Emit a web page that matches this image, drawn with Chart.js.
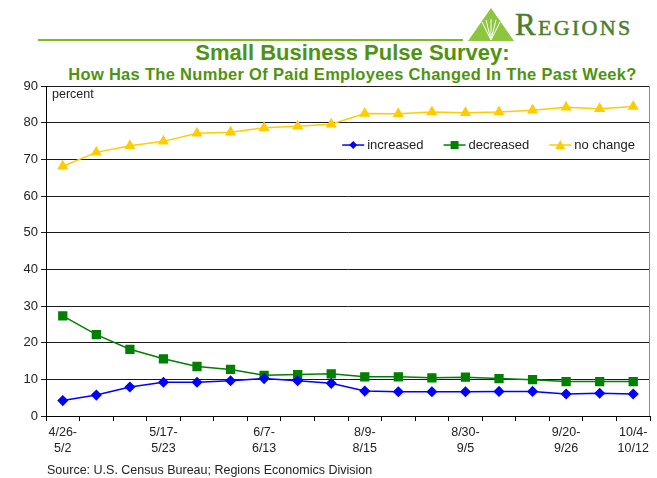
<!DOCTYPE html>
<html lang="en">
<head>
<meta charset="UTF-8">
<title>Small Business Pulse Survey</title>
<script src="https://cdn.jsdelivr.net/npm/chart.js@4/dist/chart.umd.min.js"></script>
<style>
    body {
        margin: 0;
        padding: 0;
        background: #fff;
        font-family: 'Liberation Sans', Arial, sans-serif;
    }
    .page {
        position: relative;
        width: 657px;
        height: 478px;
        overflow: hidden;
    }
    .rule {
        position: absolute;
        left: 38px;
        top: 39px;
        width: 425px;
        height: 2px;
        background: #7dbb1c;
    }
    .logo {
        position: absolute;
        left: 468px;
        top: 8px;
    }
    .brand {
        position: absolute;
        left: 515px;
        top: 7px;
        font-family: 'Liberation Serif', 'DejaVu Serif', serif;
        font-size: 31px;
        font-variant: small-caps;
        color: #4b7f2d;
        letter-spacing: 2.3px;
        -webkit-text-stroke: 0.5px #4b7f2d;
    }
    h1, h2 {
        position: absolute;
        left: 0;
        width: 705px;
        margin: 0;
        text-align: center;
        color: #4f9310;
        font-weight: bold;
    }
    h1 { top: 40px; font-size: 22px; }
    h2 { top: 65px; font-size: 16.5px; letter-spacing: 0.3px; }
    .source {
        position: absolute;
        left: 47px;
        top: 463px;
        font-size: 12.5px;
        color: #222;
    }
    canvas { position: absolute; left: 0; top: 0; }
</style>
</head>
<body>
<div class="page">
    <div class="rule"></div>
    <svg class="logo" width="46" height="33" viewBox="0 0 46 33">
        <polygon points="23,0 46,33 0,33" fill="#8cc63f"/>
        <g stroke="#fff" stroke-width="1" fill="none">
            <path d="M23,32 L14,14"/>
            <path d="M23,32 L18,12"/>
            <path d="M23,32 L23,11"/>
            <path d="M23,32 L28,12"/>
            <path d="M23,32 L32,14"/>
        </g>
    </svg>
    <div class="brand">Regions</div>
    <h1>Small Business Pulse Survey:</h1>
    <h2>How Has The Number Of Paid Employees Changed In The Past Week?</h2>
    <canvas id="chart" width="657" height="478"></canvas>
    <div class="source">Source: U.S. Census Bureau; Regions Economics Division</div>
</div>

<script>
// weekly survey periods
const weeks = ['4/26-5/2', '5/3-5/9', '5/10-5/16', '5/17-5/23', '5/24-5/30', '5/31-6/6',
    '6/7-6/13', '6/14-6/20', '6/21-6/27', '8/9-8/15', '8/16-8/22', '8/23-8/29',
    '8/30-9/5', '9/6-9/12', '9/13-9/19', '9/20-9/26', '9/27-10/3', '10/4-10/12'];

// only some periods are labelled on the axis
const tickLabels = [['4/26-', '5/2'], '', '', ['5/17-', '5/23'], '', '',
    ['6/7-', '6/13'], '', '', ['8/9-', '8/15'], '', '',
    ['8/30-', '9/5'], '', '', ['9/20-', '9/26'], '', ['10/4-', '10/12']];

const increased = [4.2, 5.7, 7.9, 9.2, 9.2, 9.6, 10.2, 9.6, 8.9, 6.8, 6.6, 6.6, 6.6, 6.7, 6.7, 6.0, 6.2, 6.0];
const decreased = [27.3, 22.2, 18.2, 15.6, 13.5, 12.7, 11.1, 11.3, 11.5, 10.7, 10.7, 10.4, 10.6, 10.2, 9.9, 9.4, 9.4, 9.4];
const noChange = [68.1, 71.9, 73.7, 74.9, 77.1, 77.4, 78.6, 79.0, 79.6, 82.5, 82.4, 82.9, 82.7, 82.9, 83.4, 84.2, 83.8, 84.4];

const yTicks = [0, 10, 20, 30, 40, 50, 60, 70, 80, 90];

const FONT = "'Liberation Sans', Arial, sans-serif";

// draws right border, "percent" label and the in-plot legend
const extras = {
    id: 'extras',
    afterDraw(chart) {
        const ctx = chart.ctx;
        const a = chart.chartArea;
        ctx.save();
        ctx.strokeStyle = '#8a8a8a';
        ctx.lineWidth = 1;
        ctx.beginPath();
        ctx.moveTo(a.right - 0.5, a.top);
        ctx.lineTo(a.right - 0.5, a.bottom);
        ctx.stroke();

        ctx.fillStyle = '#222';
        ctx.font = '12.5px ' + FONT;
        ctx.textBaseline = 'middle';
        ctx.fillText('percent', a.left + 6, a.top + 9);

        // legend, laid out from the right
        ctx.font = '13px ' + FONT;
        const y = chart.scales.y.getPixelForValue(73.9);
        let x = a.right - 15;
        const items = chart.data.datasets.slice().reverse();
        items.forEach(ds => {
            const w = ctx.measureText(ds.label).width;
            x -= w;
            ctx.fillStyle = '#222';
            ctx.fillText(ds.label, x, y);
            const lx1 = x - 25, lx2 = x - 3, mx = (lx1 + lx2) / 2;
            ctx.strokeStyle = ds.borderColor;
            ctx.lineWidth = 1.5;
            ctx.beginPath();
            ctx.moveTo(lx1, y);
            ctx.lineTo(lx2, y);
            ctx.stroke();
            ctx.fillStyle = ds.pointBackgroundColor;
            ctx.beginPath();
            if (ds.pointStyle === 'rectRot') {
                ctx.moveTo(mx, y - 4); ctx.lineTo(mx + 4, y); ctx.lineTo(mx, y + 4); ctx.lineTo(mx - 4, y);
            } else if (ds.pointStyle === 'rect') {
                ctx.rect(mx - 4, y - 4, 8, 8);
            } else {
                ctx.moveTo(mx, y - 5); ctx.lineTo(mx + 5, y + 4); ctx.lineTo(mx - 5, y + 4);
            }
            ctx.closePath();
            ctx.fill();
            x -= 25 + 20;
        });
        ctx.restore();
    }
};

new Chart(document.getElementById('chart'), {
    type: 'line',
    data: {
        labels: weeks,
        datasets: [{
            label: 'increased',
            data: increased,
            borderColor: '#0000ff',
            backgroundColor: '#0000ff',
            pointBackgroundColor: '#0000ff',
            pointBorderColor: '#0000ff',
            pointStyle: 'rectRot',
            pointRadius: 4.5,
            borderWidth: 1.5,
            tension: 0
        }, {
            label: 'decreased',
            data: decreased,
            borderColor: '#008000',
            backgroundColor: '#008000',
            pointBackgroundColor: '#008000',
            pointBorderColor: '#008000',
            pointStyle: 'rect',
            pointRadius: 5.5,
            borderWidth: 1.5,
            tension: 0
        }, {
            label: 'no change',
            data: noChange,
            borderColor: '#ffcc00',
            backgroundColor: '#ffcc00',
            pointBackgroundColor: '#ffcc00',
            pointBorderColor: '#ffcc00',
            pointStyle: 'triangle',
            pointRadius: 5,
            borderWidth: 1.5,
            tension: 0
        }]
    },
    options: {
        responsive: false,
        animation: false,
        layout: { padding: { top: 86, right: 1, bottom: 17, left: 0 } },
        plugins: {
            legend: { display: false },
            tooltip: { enabled: false }
        },
        scales: {
            x: {
                offset: true,
                afterFit: s => { s.height = 45; },
                grid: {
                    drawOnChartArea: false,
                    offset: true,
                    tickLength: 5,
                    color: '#000'
                },
                border: { color: '#000', width: 1 },
                ticks: {
                    autoSkip: false,
                    maxRotation: 0,
                    padding: 3,
                    color: '#222',
                    font: { family: FONT, size: 12.5, lineHeight: 1.3 },
                    callback: (v, i) => tickLabels[i]
                }
            },
            y: {
                min: 0,
                max: 90,
                afterFit: s => { s.width = 46; },
                afterBuildTicks: s => { s.ticks = yTicks.map(v => ({ value: v })); },
                grid: { color: '#1a1a1a', tickLength: 5 },
                border: { color: '#000', width: 1 },
                ticks: {
                    padding: 3,
                    color: '#222',
                    font: { family: FONT, size: 13 }
                }
            }
        }
    },
    plugins: [extras]
});
</script>
</body>
</html>
